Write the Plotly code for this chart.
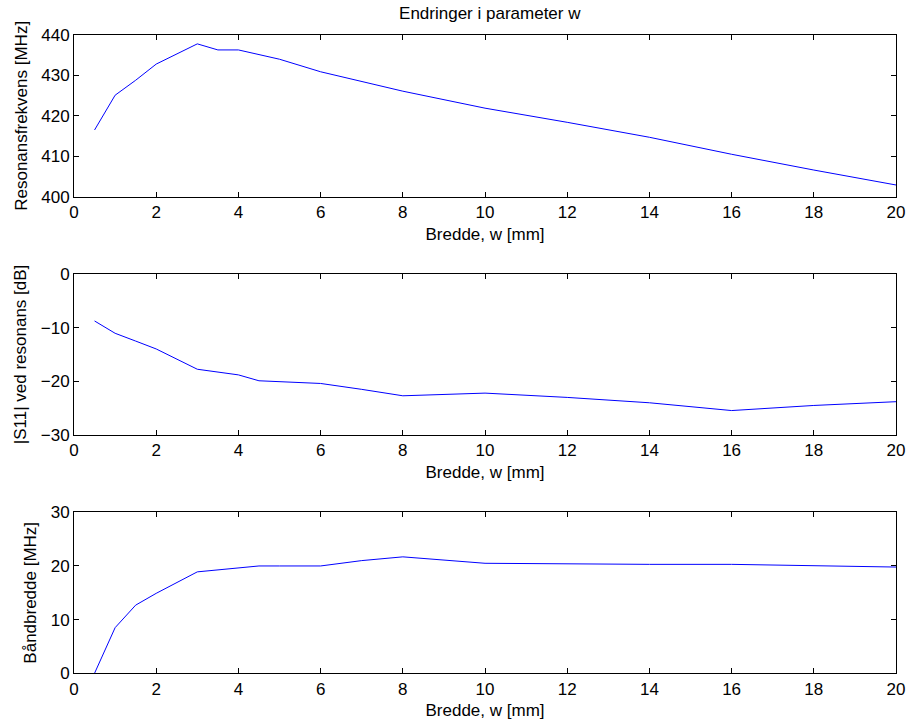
import plotly.graph_objects as go
from plotly.subplots import make_subplots

w = [0.5, 1, 1.5, 2, 3, 3.5, 4, 4.5, 5, 6, 7, 8, 10, 12, 14, 16, 18, 20]
freq = [416.5, 425.1, 428.8, 432.8, 437.8, 436.3, 436.3, 435.2, 434.0, 430.9, 428.5, 426.1, 421.9, 418.4, 414.7, 410.5, 406.6, 402.9]
s11 = [-8.75, -11.05, -12.5, -13.97, -17.75, -18.3, -18.8, -19.9, -20.1, -20.4, -21.5, -22.7, -22.2, -23.0, -24.0, -25.45, -24.5, -23.8]
bw = [0.0, 8.5, 12.7, 14.9, 18.9, 19.3, 19.7, 20.0, 20.0, 20.0, 21.0, 21.7, 20.5, 20.35, 20.3, 20.3, 20.0, 19.8]

title = "Endringer i parameter w"
xlabel = "Bredde, w [mm]"
ylabels = ["Resonansfrekvens [MHz]", "|S11| ved resonans [dB]", "Båndbredde [MHz]"]
yranges = [[400, 440], [-30, 0], [0, 30]]
series = [freq, s11, bw]

fig = make_subplots(rows=3, cols=1)
font = dict(family="Liberation Sans, Arial, sans-serif", size=17, color="black")

domains = [[0.7294, 0.9519], [0.4017, 0.6231], [0.0739, 0.2953]]
for i, ys in enumerate(series):
    fig.add_trace(go.Scatter(x=w, y=ys, mode="lines", line=dict(color="#0000ff", width=1),
                             showlegend=False), row=i + 1, col=1)
    fig.update_xaxes(range=[0, 20], dtick=2, ticks="inside", ticklen=5, tickcolor="black",
                     showline=True, linecolor="black", linewidth=1, mirror="ticks",
                     showgrid=False, zeroline=False, domain=[0.0816, 0.9879],
                     automargin=False,
                     title=dict(text=xlabel, font=font, standoff=6), tickfont=font,
                     row=i + 1, col=1)
    fig.update_yaxes(range=yranges[i], dtick=10, ticks="inside", ticklen=5, tickcolor="black",
                     showline=True, linecolor="black", linewidth=1, mirror="ticks",
                     showgrid=False, zeroline=False, domain=domains[i],
                     automargin=False,
                     title=dict(text=ylabels[i], font=font, standoff=9), tickfont=font,
                     row=i + 1, col=1)

fig.update_layout(
    width=907, height=727,
    margin=dict(l=0, r=0, t=0, b=0, autoexpand=False),
    paper_bgcolor="white", plot_bgcolor="white",
    font=font,
    title=dict(text=title, x=0.54, xanchor="center", y=0.982, yanchor="middle", font=font),
)

fig.write_html("out.html")
